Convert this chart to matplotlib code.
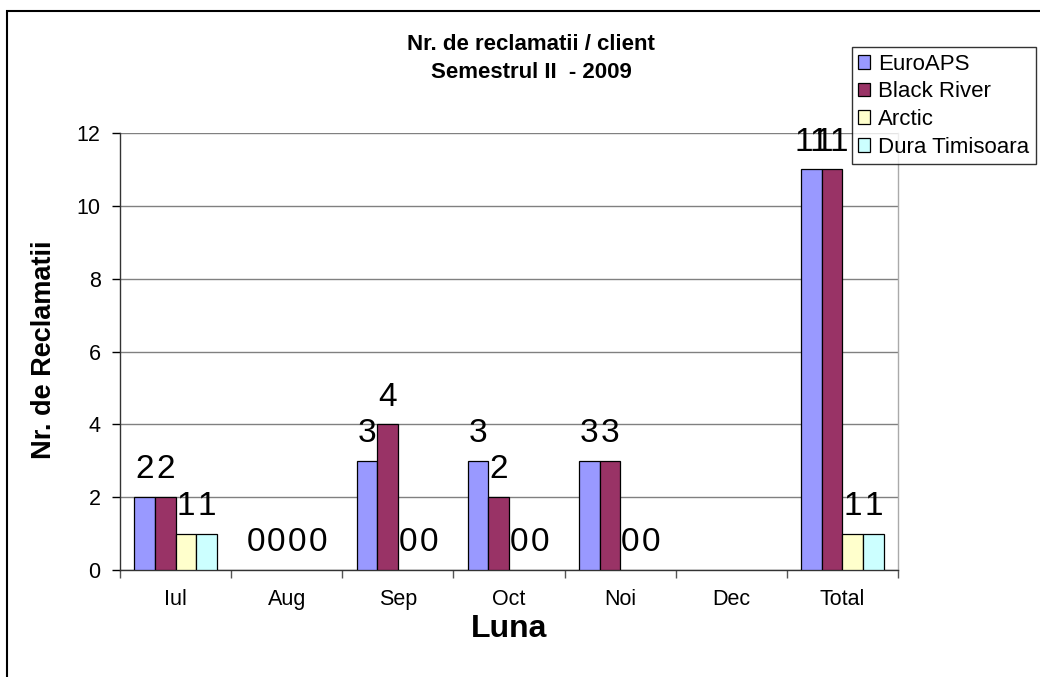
import numpy as np
import matplotlib
matplotlib.use("Agg")
import matplotlib.pyplot as plt
from matplotlib.patches import Rectangle, Patch

categories = ["Iul", "Aug", "Sep", "Oct", "Noi", "Dec", "Total"]
series_names = ["EuroAPS", "Black River", "Arctic", "Dura Timisoara"]
euroaps = [2, 0, 3, 3, 3, np.nan, 11]
black_river = [2, 0, 4, 2, 3, np.nan, 11]
arctic = [1, 0, 0, 0, 0, np.nan, 1]
dura = [1, 0, 0, 0, 0, np.nan, 1]
colors = ["#9999FF", "#993366", "#FFFFCC", "#CCFFFF"]
yticks = [0, 2, 4, 6, 8, 10, 12]

plt.rcParams['font.family'] = ['Liberation Sans', 'DejaVu Sans']

fig = plt.figure(figsize=(10.4, 6.77), dpi=100)
ax = fig.add_axes([120/1040, 1-570/677, (898-120)/1040, (570-133)/677])

x = np.arange(len(categories))
bw = 0.185
data = [euroaps, black_river, arctic, dura]
handles = []
for i, (vals, c, name) in enumerate(zip(data, colors, series_names)):
    offs = (i - 1.5) * bw
    v = np.array(vals, dtype=float)
    mask = ~np.isnan(v)
    vis = mask & (np.nan_to_num(v) > 0)
    ax.bar(x[vis] + offs, v[vis], width=bw, color=c, edgecolor='black',
           linewidth=0.9, zorder=3)
    handles.append(Patch(facecolor=c, edgecolor='black', linewidth=0.9, label=name))
    for xi, vi in zip(x[mask] + offs, v[mask]):
        ax.annotate(f"{int(vi)}", (xi, vi), xytext=(0, 13.5), textcoords='offset points',
                    ha='center', va='baseline', fontsize=24, zorder=5)

ax.set_xlim(-0.5, len(categories) - 0.5)
ax.set_ylim(0, 12)
ax.set_yticks(yticks)
ax.yaxis.grid(True, color='#808080', linewidth=1.0, zorder=0)
ax.tick_params(axis='y', labelsize=15.5, length=6, direction='out', pad=8, width=1)
ax.set_xticks(x)
ax.set_xticklabels(categories)
ax.tick_params(axis='x', which='major', length=0, labelsize=15.5, pad=14)
ax.set_xticks(np.arange(len(categories) + 1) - 0.5, minor=True)
ax.tick_params(axis='x', which='minor', length=6, direction='out', width=1, color='#555555')

for s in ['left', 'bottom']:
    ax.spines[s].set_color('#333333')
    ax.spines[s].set_linewidth(1.0)
ax.spines['top'].set_visible(False)
ax.spines['right'].set_color('#AAAAAA')
ax.spines['right'].set_linewidth(1.0)

fig.text(531/1040, 1-45/677, "Nr. de reclamatii / client", ha='center', va='center',
         fontsize=16, fontweight='bold')
fig.text(531/1040, 1-72/677, "Semestrul II  - 2009", ha='center', va='center',
         fontsize=16, fontweight='bold')
fig.text(44/1040, 1-350/677, "Nr. de Reclamatii", rotation=90, ha='center', va='center',
         fontsize=19.5, fontweight='bold')
fig.text(509/1040, 1-629/677, "Luna", ha='center', va='center',
         fontsize=23, fontweight='bold')

leg = fig.legend(handles=handles, loc='upper right', bbox_to_anchor=(1036/1040, 1-47/677),
                 fontsize=16, frameon=True, fancybox=False, edgecolor='black',
                 handlelength=0.55, handleheight=0.55, handletextpad=0.35,
                 labelspacing=0.3, borderpad=0.3, borderaxespad=0)
leg.get_frame().set_linewidth(1.0)

fig.patches.append(Rectangle((7/1040, -0.1), 1.2, 1 - 11/677 + 0.1, transform=fig.transFigure,
                             fill=False, edgecolor='black', linewidth=1.5, zorder=0))

fig.savefig("out.png", dpi=100)
